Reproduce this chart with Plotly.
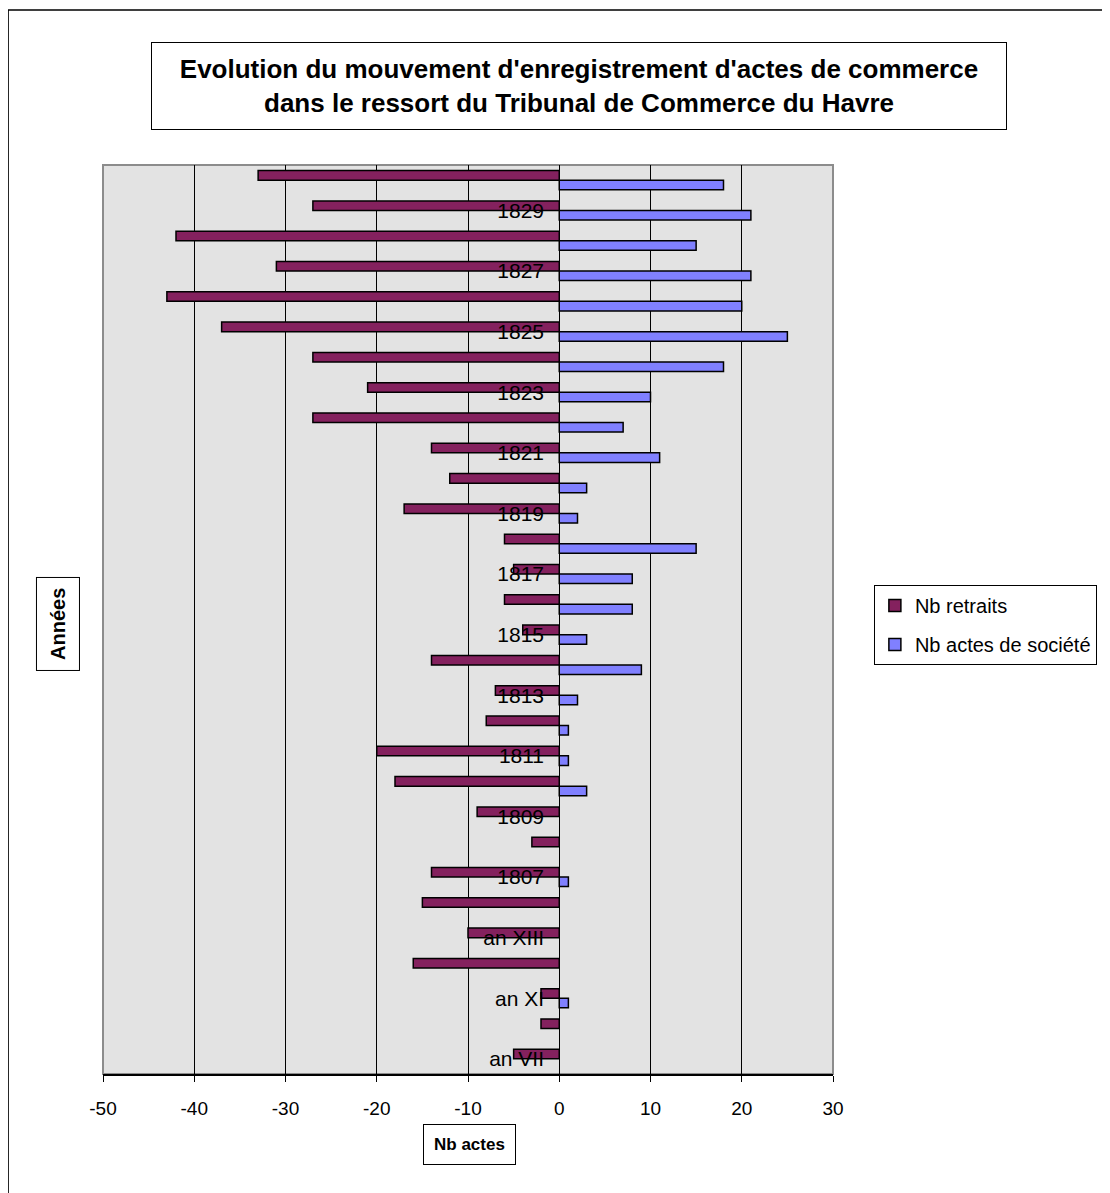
import plotly.graph_objects as go

# categories, bottom to top
annees = ['an VII', 'an IX', 'an XI', 'an XII', 'an XIII', '1806',
          '1807', '1808', '1809', '1810', '1811', '1812', '1813', '1814',
          '1815', '1816', '1817', '1818', '1819', '1820', '1821', '1822',
          '1823', '1824', '1825', '1826', '1827', '1828', '1829', '1830']

nb_retraits = [-5, -2, -2, -16, -10, -15, -14, -3, -9, -18, -20, -8, -7, -14,
               -4, -6, -5, -6, -17, -12, -14, -27, -21, -27, -37, -43, -31, -42,
               -27, -33]

nb_actes_societe = [None, None, 1, None, None, None, 1, None, None, 3, 1, 1, 2, 9,
                    3, 8, 8, 15, 2, 3, 11, 7, 10, 18, 25, 20, 21, 15, 21, 18]

annees_affichees = annees[::2]
x_ticks = [-50, -40, -30, -20, -10, 0, 10, 20, 30]

font_main = 'Liberation Sans, Arial, sans-serif'

fig = go.Figure()

# blue first so that it sits below the plum bar within each year
fig.add_trace(go.Bar(
  y = annees,
  x = nb_actes_societe,
  orientation = 'h',
  name = 'Nb actes de société',
  legendgroup = 'b',
  marker = dict(color = '#8080FF', line = dict(color = 'black', width = 1.5)),
  legendrank = 2
))

fig.add_trace(go.Bar(
  y = annees,
  x = nb_retraits,
  orientation = 'h',
  name = 'Nb retraits',
  legendgroup = 'a',
  marker = dict(color = '#84215E', line = dict(color = 'black', width = 1.5)),
  legendrank = 1
))

fig.update_layout(
  width = 1102,
  height = 1185,
  margin = dict(l = 95, r = 277, t = 157, b = 119),
  paper_bgcolor = 'white',
  plot_bgcolor = '#E3E3E3',
  barmode = 'group',
  bargap = 0.37,
  bargroupgap = 0,
  font = dict(family = font_main, color = 'black', size = 16),
  legend = dict(
    x = 1.056, y = 0.538, xanchor = 'left', yanchor = 'top',
    bordercolor = 'black', borderwidth = 1,
    font = dict(size = 20),
    tracegroupgap = 10,
    itemwidth = 30
  ),
  xaxis = dict(
    range = [-50, 30],
    tickvals = x_ticks,
    ticktext = [str(v) for v in x_ticks],
    showgrid = True, gridcolor = 'black', gridwidth = 1,
    zeroline = False,
    showline = True, linecolor = 'black', linewidth = 1.5,
    ticks = 'outside', ticklen = 6, tickcolor = 'black',
    ticklabelstandoff = 10,
    tickfont = dict(size = 19),
    fixedrange = True
  ),
  yaxis = dict(
    type = 'category',
    categoryorder = 'array', categoryarray = annees,
    tickvals = annees_affichees,
    anchor = 'free', position = 0.625,
    showline = True, linecolor = 'black', linewidth = 1,
    showgrid = False, zeroline = False,
    ticks = '', ticklabelstandoff = 11,
    tickfont = dict(size = 21),
    layer = 'above traces'
  ),
  # small crossing ticks between the years on the zero line
  yaxis2 = dict(
    overlaying = 'y', anchor = 'free', position = 0.625,
    range = [-0.5, 29.5], tickmode = 'linear', tick0 = 0.5, dtick = 1,
    ticks = 'outside', ticklen = 4, tickcolor = 'black',
    showticklabels = False, showgrid = False, zeroline = False
  ),
  yaxis3 = dict(
    overlaying = 'y', anchor = 'free', position = 0.625,
    range = [-0.5, 29.5], tickmode = 'linear', tick0 = 0.5, dtick = 1,
    ticks = 'inside', ticklen = 4, tickcolor = 'black',
    showticklabels = False, showgrid = False, zeroline = False
  ),
  shapes = [
    # plot area frame
    dict(type = 'rect', xref = 'paper', yref = 'paper', x0 = 0, x1 = 1, y0 = 0, y1 = 1,
         line = dict(color = '#8C8C8C', width = 2), layer = 'below'),
    # chart border
    dict(type = 'rect', xref = 'paper', yref = 'paper', x0 = -0.130, x1 = 1.6, y0 = -0.3, y1 = 1.1705,
         line = dict(color = 'black', width = 1.5))
  ],
  annotations = [
    dict(text = "<b>Evolution du mouvement d'enregistrement d'actes de commerce<br>dans le ressort du Tribunal de Commerce du Havre</b>",
         xref = 'paper', yref = 'paper', x = 0.652, y = 1.0869,
         xanchor = 'center', yanchor = 'middle',
         showarrow = False, font = dict(size = 26),
         bordercolor = 'black', borderwidth = 1, width = 852, height = 84,
         bgcolor = 'white'),
    dict(text = '<b>Années</b>', textangle = -90,
         xref = 'paper', yref = 'paper', x = -0.061, y = 0.4956,
         xanchor = 'center', yanchor = 'middle',
         showarrow = False, font = dict(size = 20),
         bordercolor = 'black', borderwidth = 1, borderpad = 10, bgcolor = 'white'),
    dict(text = '<b>Nb actes</b>',
         xref = 'paper', yref = 'paper', x = 0.5014, y = -0.0781,
         xanchor = 'center', yanchor = 'middle',
         showarrow = False, font = dict(size = 17),
         bordercolor = 'black', borderwidth = 1, borderpad = 10, bgcolor = 'white')
  ]
)

fig.write_html('out.html')
